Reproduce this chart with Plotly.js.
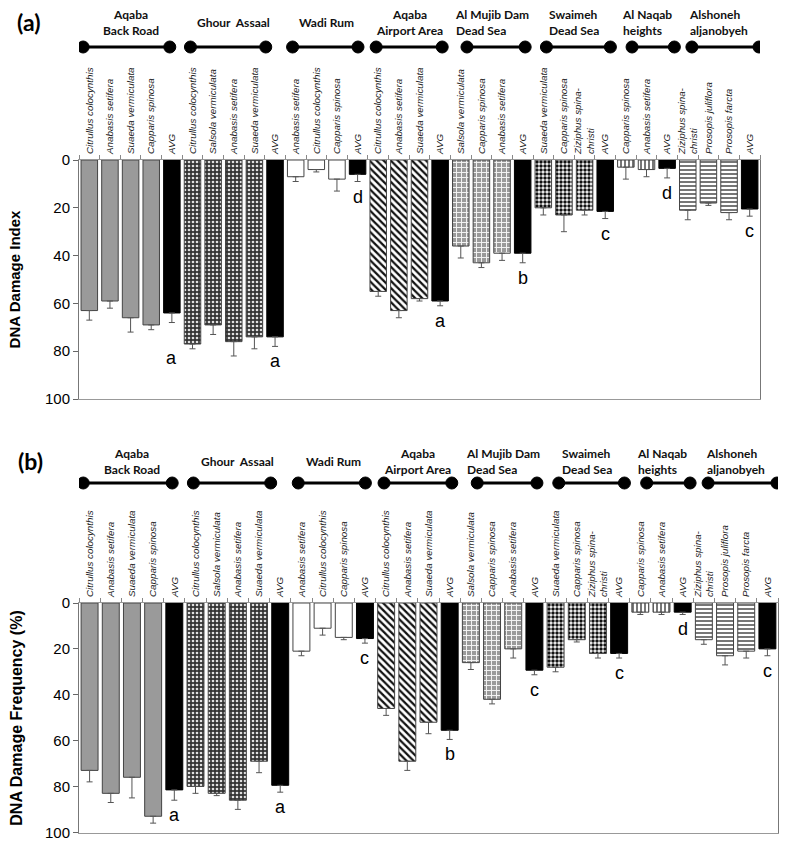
<!DOCTYPE html>
<html><head><meta charset="utf-8">
<script src="https://cdn.plot.ly/plotly-3.0.1.min.js"></script>
<style>body{margin:0;background:#fff}#chart{width:787px;height:841px}</style>
</head><body><div id="chart"></div>
<script>
// ---------- data ----------
const groups = ['Aqaba<br>Back Road','Ghour\u00a0\u00a0Assaal','Wadi Rum','Aqaba<br>Airport Area',
  'Al Mujib Dam<br>Dead Sea','Swaimeh<br>Dead Sea','Al Naqab<br>heights','Alshoneh<br>aljanobyeh'];
const species = [
  ['Citrullus colocynthis','Anabasis setifera','Suaeda vermiculata','Capparis spinosa'],
  ['Citrullus colocynthis','Salsola vermiculata','Anabasis setifera','Suaeda vermiculata'],
  ['Anabasis setifera','Citrullus colocynthis','Capparis spinosa'],
  ['Citrullus colocynthis','Anabasis setifera','Suaeda vermiculata'],
  ['Salsola vermiculata','Capparis spinosa','Anabasis setifera'],
  ['Suaeda vermiculata','Capparis spinosa','Ziziphus spina-<br>christi'],
  ['Capparis spinosa','Anabasis setifera'],
  ['Ziziphus spina-<br>christi','Prosopis juliflora','Prosopis farcta']
];
const avgLabel = 'AVG';
// (a) DNA Damage Index
const indexVal = [[63,59,66,69],[77,69,76,74],[7,4,8],[55,63,58],[36,43,39],[20,23,21],[3,4],[21,18,22]];
const indexErr = [[4,3,6,2],[2,4,6,5],[2,1,5],[2,3,1],[5,2,3],[3,7,2],[5,3],[4,1,3]];
const indexAvg = [64,74,6,59,39,21.5,3.5,20.5];
const indexAvgErr = [4,4,3,2,4,3,4,3];
const indexLetters = ['a','a','d','a','b','c','d','c'];
// (b) DNA Damage Frequency (%)
const freqVal = [[73,83,76,93],[80,83,86,69],[21,11,15],[46,69,52],[26,42,20],[28,16,22],[4,4],[16,23,21]];
const freqErr = [[5,4,9,3],[3,1,4,5],[2,3,1],[3,4,5],[3,2,4],[2,1,2],[1,1],[2,4,3]];
const freqAvg = [81.5,79.5,15.5,55.5,29.3,22,4,20];
const freqAvgErr = [4.5,3,2,4,2,2,1,3];
const freqLetters = ['a','a','c','b','c','c','d','c'];
const yTicks = [0,20,40,60,80,100];

// ---------- styles ----------
const groupStyle = [
  {color:'#9a9a9a', pattern:{shape:''}},
  {color:'#333', pattern:{shape:'.', bgcolor:'#333', fgcolor:'#e0e0e0', size:4, solidity:0.35, fillmode:'replace'}},
  {color:'#fff', pattern:{shape:''}},
  {color:'#fff', pattern:{shape:'\\', bgcolor:'#fff', fgcolor:'#111', size:5, solidity:0.45}},
  {color:'#999', pattern:{shape:'+', bgcolor:'#9a9a9a', fgcolor:'#f4f4f4', size:5, solidity:0.35}},
  {color:'#fff', pattern:{shape:'.', bgcolor:'#fff', fgcolor:'#111', size:4, solidity:0.6}},
  {color:'#fff', pattern:{shape:'|', bgcolor:'#fff', fgcolor:'#777', size:4, solidity:0.5}},
  {color:'#fff', pattern:{shape:'-', bgcolor:'#fff', fgcolor:'#777', size:4, solidity:0.5}}
];
const centeredHeader = [true,true,true,true,false,false,false,false];
// dumbbell end offsets (in category units) relative to first / AVG category of each group
const bellL = [-0.3,-0.1,-0.15,-0.1,0.3,0.15,0.3,0.2];
const bellR = [-0.1,-0.45,0.02,0.1,0.12,0.25,0.35,0.45];

// ---------- build positions ----------
const tickvals = [], ticktext = [], groupStart = [], groupAvgIdx = [];
let k = 0;
species.forEach((sp, g) => {
  groupStart.push(k);
  sp.forEach(s => { tickvals.push(k); ticktext.push(s); k++; });
  tickvals.push(k); ticktext.push(avgLabel); groupAvgIdx.push(k); k++;
});
const nCat = k;

const traces = [];
function addPanel(vals, errs, avg, avgErr, xa, ya) {
  vals.forEach((v, g) => {
    const xs = v.map((_, i) => groupStart[g] + i);
    traces.push({type:'bar', x:xs, y:v, xaxis:xa, yaxis:ya, width:0.8,
      marker:{color:groupStyle[g].color, pattern:groupStyle[g].pattern, line:{color:'#444', width:1}},
      error_y:{type:'data', symmetric:false, array:errs[g], arrayminus:v.map(()=>0), color:'#555', thickness:1, width:3},
      hoverinfo:'skip', showlegend:false});
  });
  traces.push({type:'bar', x:groupAvgIdx, y:avg, xaxis:xa, yaxis:ya, width:0.8,
    marker:{color:'#000', line:{color:'#000', width:1}},
    error_y:{type:'data', symmetric:false, array:avgErr, arrayminus:avg.map(()=>0), color:'#555', thickness:1, width:3},
    hoverinfo:'skip', showlegend:false});
}
addPanel(indexVal, indexErr, indexAvg, indexAvgErr, 'x', 'y');
addPanel(freqVal, freqErr, freqAvg, freqAvgErr, 'x2', 'y2');

// ---------- layout ----------
const W = 787, H = 841, mL = 79, mR = 9, mT = 160, mB = 8;
const plotH = H - mT - mB, plotW = W - mL - mR;
const py = p => (H - mB - p) / plotH;     // pixel y -> paper
const px = p => (p - mL) / plotW;         // pixel x -> paper

const xCommon = {
  range:[-0.5, nCat-0.5], tickmode:'array', tickvals:tickvals, ticktext:ticktext,
  side:'top', tickangle:-90, ticks:'', ticklabelstandoff:3,
  tickfont:{family:'Liberation Sans, Arial', size:9.8, color:'#222', style:'italic'},
  showline:true, linecolor:'#999', linewidth:1, mirror:true, showgrid:false, zeroline:false,
  minor:{tick0:-0.5, dtick:1, ticks:'outside', ticklen:4, tickcolor:'#888', showgrid:false}
};
const yCommon = {
  tickmode:'array', tickvals:yTicks, ticks:'outside', ticklen:5, tickcolor:'#666',
  tickfont:{family:'Liberation Sans, Arial', size:15, color:'#000'},
  showline:true, linecolor:'#777', linewidth:1, mirror:true, showgrid:false, zeroline:false
};

const layout = {
  width:W, height:H, margin:{l:mL, r:mR, t:mT, b:mB},
  paper_bgcolor:'#fff', plot_bgcolor:'#fff', barmode:'overlay',
  xaxis:Object.assign({}, xCommon, {domain:[0, 681/plotW], anchor:'y'}),
  yaxis:Object.assign({}, yCommon, {range:[100,0], domain:[py(399), 1], anchor:'x',
    title:{text:'<b>DNA Damage Index</b>', font:{family:'Liberation Sans, Arial', size:15, color:'#000'}, standoff:20}}),
  xaxis2:Object.assign({}, xCommon, {domain:[0, 1], anchor:'y2'}),
  yaxis2:Object.assign({}, yCommon, {range:[100.3,0], domain:[0, py(603)], anchor:'x2',
    title:{text:'<b>DNA Damage Frequency (%)</b>', font:{family:'Liberation Sans, Arial', size:16, color:'#000'}, standoff:18}}),
  shapes:[], annotations:[]
};

function headers(xref, yHead, yBar) {
  groups.forEach((g, i) => {
    const a = groupStart[i] + bellL[i], b = groupAvgIdx[i] + bellR[i];
    layout.annotations.push({xref:xref, yref:'paper', x:(groupStart[i]+groupAvgIdx[i])/2, y:py(yHead), text:'<b>'+g+'</b>',
      showarrow:false, align:centeredHeader[i]?'center':'left', xanchor:'center', yanchor:'middle',
      font:{family:'Lato, Open Sans', size:12, color:'#111'}});
    layout.shapes.push({type:'line', xref:xref, yref:'paper', x0:a, x1:b, y0:py(yBar), y1:py(yBar),
      line:{color:'#000', width:3}});
    [a, b].forEach(xc => layout.shapes.push({type:'circle', xref:xref, yref:'paper',
      xsizemode:'pixel', ysizemode:'pixel', xanchor:xc, yanchor:py(yBar), x0:-6, x1:6, y0:-6, y1:6,
      fillcolor:'#000', line:{color:'#000', width:1}}));
  });
}
headers('x', 22, 47);
headers('x2', 461, 483);

function letters(xref, yref, avg, avgErr, labs, extra) {
  labs.forEach((l, i) => layout.annotations.push({xref:xref, yref:yref, x:groupAvgIdx[i], y:avg[i]+avgErr[i],
    text:l, showarrow:false, xanchor:'center', yanchor:'middle', yshift:-15 + (extra[i]||0),
    font:{family:'Liberation Sans, Arial', size:18, color:'#000'}}));
}
letters('x', 'y', indexAvg, indexAvgErr, indexLetters, [-20]);
letters('x2', 'y2', freqAvg, freqAvgErr, freqLetters, []);

layout.annotations.push({xref:'paper', yref:'paper', x:px(28), y:py(22), xanchor:'center', yanchor:'middle',
  text:'<b>(a)</b>', showarrow:false, font:{family:'Lato, Open Sans', size:23, color:'#000'}});
layout.annotations.push({xref:'paper', yref:'paper', x:px(30), y:py(461), xanchor:'center', yanchor:'middle',
  text:'<b>(b)</b>', showarrow:false, font:{family:'Lato, Open Sans', size:23, color:'#000'}});

Plotly.newPlot('chart', traces, layout, {staticPlot:true, displayModeBar:false});
</script>
</body></html>
